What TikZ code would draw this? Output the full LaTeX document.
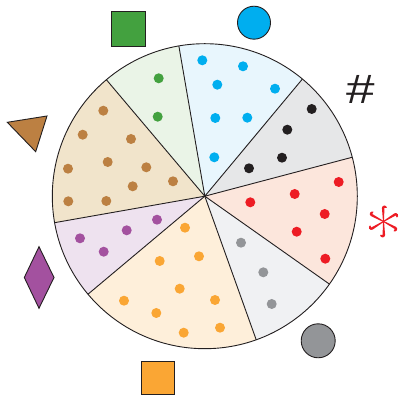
\documentclass[tikz,border=0pt]{standalone}
\usepackage{fontspec}
\setmainfont{Liberation Sans}

\definecolor{inchiostro}{HTML}{231F20}
\definecolor{verde}{HTML}{43A13F}
\definecolor{azzurro}{HTML}{00AEEF}
\definecolor{nero}{HTML}{231F20}
\definecolor{rosso}{HTML}{ED1C24}
\definecolor{grigio}{HTML}{939598}
\definecolor{arancio}{HTML}{FAA634}
\definecolor{viola}{HTML}{A3519F}
\definecolor{marrone}{HTML}{BC8042}
% colori chiari degli spicchi
\definecolor{verdechiaro}{HTML}{EAF4E7}
\definecolor{azzurrochiaro}{HTML}{E8F6FD}
\definecolor{nerochiaro}{HTML}{E6E7E8}
\definecolor{rossochiaro}{HTML}{FCE6DC}
\definecolor{grigiochiaro}{HTML}{F0F1F3}
\definecolor{aranciochiaro}{HTML}{FEEFDA}
\definecolor{violachiaro}{HTML}{EEE2EF}
\definecolor{marronechiaro}{HTML}{F1E4CB}

\tikzset{
  bordo/.style={draw=inchiostro, line width=0.9pt}
}

\begin{document}
\begin{tikzpicture}[x=1pt,y=1pt]
    \useasboundingbox (0,0) rectangle (403,398);
    \coordinate (O) at (204.8,201.8);

    % Spicchi della torta, ognuno con un colore chiaro
    \foreach \da/\a/\col in {99.8/130.2/verde, 50.2/99.8/azzurro, 14.8/50.2/nero, -35.2/14.8/rosso,
                             -70.3/-35.2/grigio, 220/289.7/arancio, 190/220/viola, 130.2/190/marrone}
        \fill[\col chiaro] (O) -- ++(\da:152.5) arc[start angle=\da, end angle=\a, radius=152.5] -- cycle;
    \foreach \ang in {99.8,50.2,14.8,-35.2,-70.3,220,190,130.2}
        \draw[bordo] (O) -- ++(\ang:152.5);
    \draw[bordo] (O) circle (152.5);

    % Punti dentro gli spicchi
    \foreach \p in {(202.3,337.7),(243,331.7),(217.3,313.3),(275,309.3),(215.3,280),(247.3,280.3),(214.3,240.7)}
        \fill[azzurro] \p circle (5);
    \foreach \p in {(158.7,319.7),(157.7,281.3)}
        \fill[verde] \p circle (5);
    \foreach \p in {(311.7,289),(287.3,268.3),(282,240.3),(249,229.7)}
        \fill[nero] \p circle (5);
    \foreach \p in {(338.7,216),(294.7,204),(250.3,195.7),(324.7,184),(296.7,166.3),(325.3,139.3)}
        \fill[rosso] \p circle (5);
    \foreach \p in {(241,155.3),(263.3,125.7),(271.7,94)}
        \fill[grigio] \p circle (5);
    \foreach \p in {(185,170.3),(199,141.7),(159.7,137),(179.7,109.3),(215,98),(124,97.3),(156.3,85),(220,70.3),(183.7,65.3)}
        \fill[arancio] \p circle (5);
    \foreach \p in {(157,178.3),(126.7,167.7),(80,159.7),(103.7,146.3)}
        \fill[viola] \p circle (5);
    \foreach \p in {(103.3,287.3),(82.7,263.3),(131,259),(107.7,236),(68,229.3),(146.3,230.7),(173,216.7),(132.7,211.7),(68.3,196.7),(106.3,197)}
        \fill[marrone] \p circle (5);

    % Simboli attorno alla torta
    \draw[bordo, fill=verde] (111,352) rectangle (145,387);
    \draw[bordo, fill=azzurro] (254,375.3) circle (16.5);
    \node[text=nero, font=\fontsize{41}{41}\selectfont, inner sep=0pt, xscale=1.25] (cancelletto) at (360.5,309) {\#};
    \coordinate (stella) at (383.5,176.5);
    \foreach \ang in {30,90,...,330}
        \fill[rosso, shift={(stella)}, rotate=\ang] (0,0.5) -- (13.5,1.6) arc[start angle=90, end angle=-90, radius=2.5] -- (13.5,-0.9) -- (0,-0.5) -- cycle;
    \draw[bordo, fill=grigio] (318.2,57.2) circle (17);
    \draw[bordo, fill=arancio] (141.7,3.7) rectangle (174.3,36.3);
    \draw[bordo, fill=viola] (39,151.3) -- (54,120.5) -- (39,89.7) -- (24.3,120.5) -- cycle;
    \draw[bordo, fill=marrone] (7.3,275.7) -- (47,282) -- (35.7,246.3) -- cycle;

\end{tikzpicture}
\end{document}
